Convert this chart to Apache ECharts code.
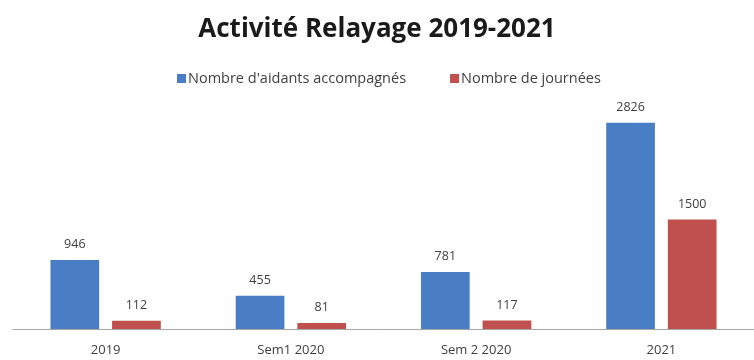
<!DOCTYPE html>
<html><head><meta charset="utf-8">
<script src="https://cdn.jsdelivr.net/npm/echarts@6/dist/echarts.min.js"></script>
<style>html,body{margin:0;padding:0;background:#fff}#c{width:754px;height:360px}</style>
</head><body><div id="c"></div>
<script>
const categories = ['2019', 'Sem1 2020', 'Sem 2 2020', '2021'];
const aidants = [946, 455, 781, 2826];
const journees = [112, 81, 117, 1500];
const seriesNames = ["Nombre d'aidants accompagnés", 'Nombre de journées'];

const chart = echarts.init(document.getElementById('c'));
const font = '"Open Sans", Lato, sans-serif';
chart.setOption({
  animation: false,
  backgroundColor: '#fff',
  title: {
    text: 'Activité Relayage 2019-2021',
    left: 'center', top: 12,
    textStyle: { fontFamily: font, fontSize: 26, fontWeight: 'bold', color: '#1a1a1a' }
  },
  legend: {
    top: 66, left: 172, itemWidth: 9, itemHeight: 9, itemGap: 44,
    icon: 'rect',
    textStyle: { fontFamily: font, fontSize: 14.5, color: '#404040', padding: [0, 0, 0, -3] },
    data: seriesNames
  },
  grid: { left: 13, width: 745, top: 110, bottom: 31, containLabel: false },
  xAxis: {
    type: 'category', data: categories,
    axisLine: { lineStyle: { color: '#a6a6a6', width: 1 } },
    axisTick: { show: false },
    axisLabel: { fontFamily: font, fontSize: 13, color: '#404040', margin: 15 }
  },
  yAxis: { type: 'value', min: 0, max: 3000, show: false, splitLine: { show: false } },
  series: [
    {
      name: seriesNames[0], type: 'bar', data: aidants,
      barWidth: '26.3%', barGap: '26.5%',
      itemStyle: { color: '#4a7ec4' },
      label: { show: true, position: 'top', distance: 9, fontFamily: font, fontSize: 12.5, color: '#404040' }
    },
    {
      name: seriesNames[1], type: 'bar', data: journees,
      barWidth: '26.3%',
      itemStyle: { color: '#c0504d' },
      label: { show: true, position: 'top', distance: 9, fontFamily: font, fontSize: 12.5, color: '#404040' }
    }
  ]
});
</script></body></html>
